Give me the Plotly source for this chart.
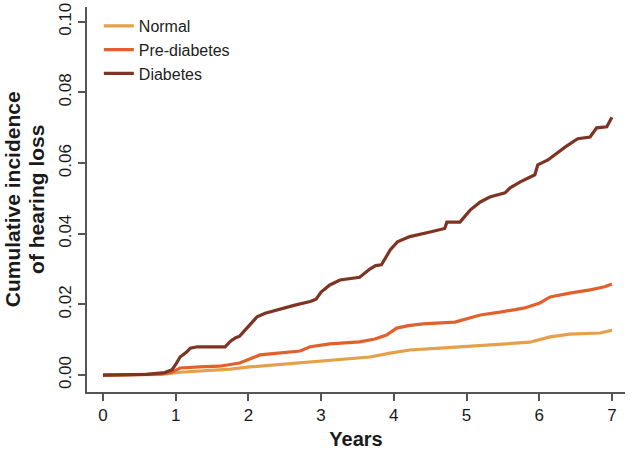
import plotly.graph_objects as go

# Data
normal_t = [0, 0.8, 1.06, 1.33, 1.75, 2.02, 2.3, 2.71, 3.12, 3.67, 3.95, 4.22, 4.64, 5.05, 5.46, 5.87, 6.15, 6.42, 6.84, 7.0]
normal_v = [0, 0.0002, 0.0008, 0.0011, 0.0017, 0.0023, 0.0028, 0.0034, 0.0042, 0.0051, 0.0062, 0.0071, 0.0076, 0.0082, 0.0088, 0.0093, 0.0108, 0.0116, 0.0119, 0.0127]

pre_t = [0, 0.8, 0.95, 1.06, 1.33, 1.6, 1.88, 2.02, 2.16, 2.3, 2.71, 2.85, 3.12, 3.53, 3.74, 3.9, 4.04, 4.2, 4.4, 4.84, 5.0, 5.19, 5.46, 5.8, 6.01, 6.15, 6.42, 6.7, 6.9, 7.0]
pre_v = [0, 0.0003, 0.0008, 0.002, 0.0023, 0.0025, 0.0034, 0.0045, 0.0057, 0.006, 0.0068, 0.008, 0.0088, 0.0094, 0.0102, 0.0113, 0.0133, 0.014, 0.0145, 0.015, 0.016, 0.017, 0.0178, 0.019, 0.0204, 0.0221, 0.0232, 0.0241, 0.025, 0.0258]

dia_t = [0, 0.6, 0.85, 0.95, 1.0, 1.06, 1.15, 1.2, 1.3, 1.68, 1.75, 1.82, 1.88, 2.0, 2.12, 2.23, 2.43, 2.64, 2.85, 2.93, 3.0, 3.12, 3.26, 3.53, 3.67, 3.75, 3.83, 3.95, 4.05, 4.22, 4.5, 4.7, 4.73, 4.91, 5.05, 5.19, 5.32, 5.53, 5.6, 5.74, 5.94, 5.98, 6.12, 6.25, 6.36, 6.53, 6.7, 6.79, 6.93, 7.0]
dia_v = [0, 0.0002, 0.0007, 0.0015, 0.003, 0.0051, 0.0065, 0.0076, 0.008, 0.008, 0.0095, 0.0105, 0.011, 0.0136, 0.0165, 0.0175, 0.0187, 0.0198, 0.0208, 0.0215, 0.0235, 0.0255, 0.0269, 0.0277, 0.03, 0.031, 0.0312, 0.0354, 0.0377, 0.0392, 0.0405, 0.0415, 0.0433, 0.0433, 0.0467, 0.049, 0.0504, 0.0516, 0.053, 0.0547, 0.0567, 0.0595, 0.0609, 0.0629, 0.0646, 0.0669, 0.0674, 0.07, 0.0703, 0.073]

x_ticks = [0, 1, 2, 3, 4, 5, 6, 7]
y_ticks = [0.00, 0.02, 0.04, 0.06, 0.08, 0.10]
y_title_lines = ["Cumulative incidence", "of hearing loss"]

series = [
    ("Normal", normal_t, normal_v, "#E5A04A"),
    ("Pre-diabetes", pre_t, pre_v, "#E2602C"),
    ("Diabetes", dia_t, dia_v, "#7E3422"),
]

fig = go.Figure()
for name, t, v, col in series:
    fig.add_trace(go.Scatter(x=t, y=v, mode="lines", name=name,
                             line=dict(color=col, width=3.2), legendgroup=name))

FONT = "Liberation Sans, Arial, sans-serif"
fig.update_layout(
    width=633, height=451,
    margin=dict(l=87, r=8, t=7, b=59),
    paper_bgcolor="white", plot_bgcolor="white",
    font=dict(family=FONT, size=17, color="#1a1a1a"),
    legend=dict(x=0.022, y=0.995, xanchor="left", yanchor="top",
                font=dict(size=16, color="#222"), bgcolor="rgba(0,0,0,0)",
                tracegroupgap=0),
    xaxis=dict(range=[-0.22, 7.18], tickvals=x_ticks, ticks="outside", ticklen=7,
               tickwidth=1.5, tickcolor="#555", showline=True, linecolor="#555",
               linewidth=2, showgrid=False, zeroline=False, automargin=False,
               ticklabeloverflow="allow",
               tickfont=dict(size=17, color="#1a1a1a"),
               title=dict(text="<b>Years</b>", font=dict(size=20, color="#1a1a1a"), standoff=8)),
    yaxis=dict(range=[-0.0048, 0.1042], tickvals=y_ticks, tickformat=".2f",
               ticks="outside", ticklen=7, tickwidth=1.5, tickcolor="#555",
               showline=True, linecolor="#555", linewidth=2, showgrid=False,
               zeroline=False, tickangle=-90, automargin=False,
               ticklabeloverflow="allow",
               tickfont=dict(size=17, color="#1a1a1a")),
)

for txt, xp in zip(y_title_lines, [-0.138, -0.094]):
    fig.add_annotation(text="<b>" + txt + "</b>", xref="paper", yref="paper",
                       x=xp, y=0.5, xanchor="center", yanchor="middle",
                       textangle=-90, showarrow=False,
                       font=dict(size=21, color="#1a1a1a", family=FONT))

# remove the browser's default 8px body margin so the figure fills the window
fig.write_html("out.html", config={"displayModeBar": False},
               post_script="document.body.style.margin='0';")
